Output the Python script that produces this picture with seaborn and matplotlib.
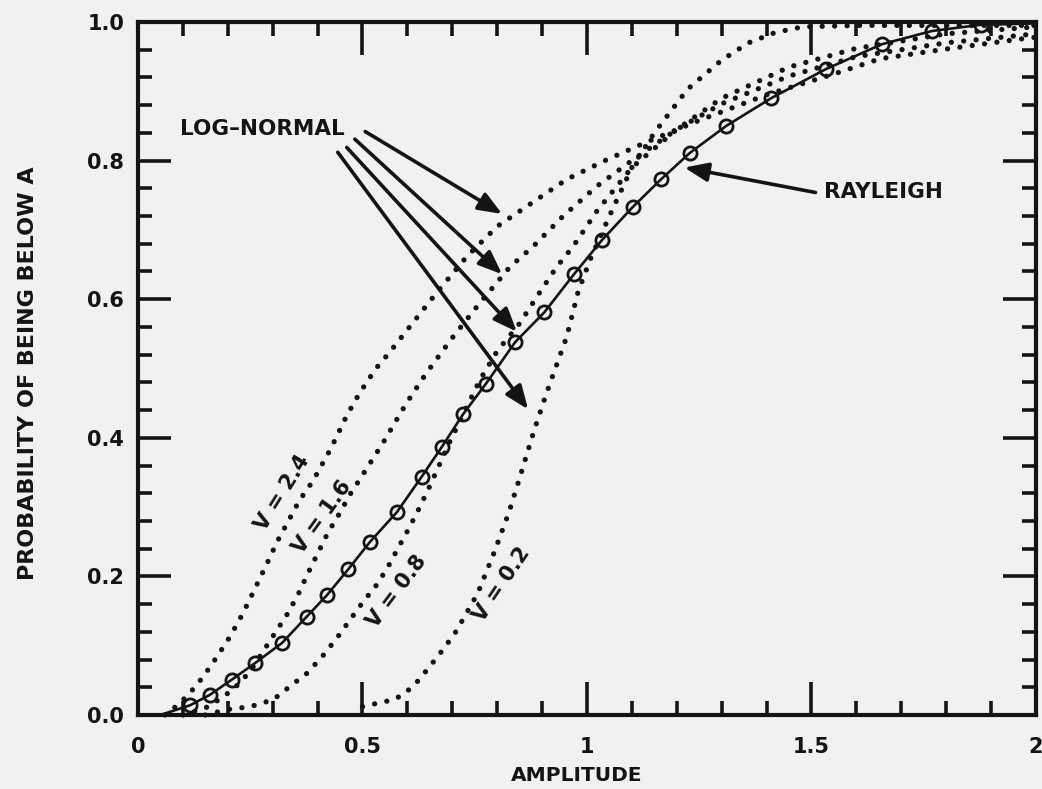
import matplotlib
matplotlib.use("Agg")
import matplotlib.pyplot as plt
from matplotlib.ticker import MultipleLocator, FuncFormatter
import seaborn as sns

# ---- data -------------------------------------------------------------
# Rayleigh distribution: sampled points (open circles) and the solid curve ends
rayleigh_amp = [0.116, 0.160, 0.209, 0.261, 0.321, 0.376, 0.421, 0.468, 0.517,
                0.577, 0.632, 0.677, 0.724, 0.775, 0.840, 0.905, 0.971, 1.033,
                1.102, 1.165, 1.229, 1.310, 1.410, 1.532, 1.657, 1.768, 1.877]
rayleigh_prob = [0.014, 0.029, 0.051, 0.075, 0.104, 0.142, 0.173, 0.210, 0.250,
                 0.293, 0.344, 0.387, 0.434, 0.478, 0.538, 0.581, 0.636, 0.685,
                 0.733, 0.773, 0.811, 0.850, 0.890, 0.932, 0.968, 0.987, 0.996]
rayleigh_start = (0.05, 0.0)
rayleigh_end = (2.0, 0.998)

# Log-normal distributions for several values of V
ln_v24_amp = [0.06, 0.09, 0.116, 0.145, 0.176, 0.205, 0.234, 0.261, 0.287, 0.31,
              0.335, 0.36, 0.39, 0.43, 0.465, 0.494, 0.53, 0.56, 0.60, 0.666,
              0.733, 0.80, 0.866, 0.955, 1.04, 1.13, 1.25, 1.40, 1.55, 1.653,
              1.80, 1.96, 2.00]
ln_v24_prob = [0.0, 0.015, 0.032, 0.055, 0.084, 0.113, 0.147, 0.183, 0.218, 0.25,
               0.28, 0.31, 0.338, 0.385, 0.432, 0.465, 0.50, 0.523, 0.556, 0.61,
               0.662, 0.705, 0.734, 0.773, 0.80, 0.826, 0.858, 0.895, 0.925,
               0.947, 0.961, 0.975, 0.978]

ln_v16_amp = [0.10, 0.15, 0.19, 0.227, 0.255, 0.278, 0.305, 0.332, 0.356, 0.379,
              0.401, 0.423, 0.45, 0.472, 0.494, 0.546, 0.599, 0.643, 0.702, 0.762,
              0.829, 0.88, 0.947, 1.022, 1.10, 1.20, 1.30, 1.45, 1.60, 1.80, 2.00]
ln_v16_prob = [0.0, 0.01, 0.026, 0.046, 0.068, 0.091, 0.118, 0.145, 0.173, 0.205,
               0.234, 0.263, 0.292, 0.318, 0.34, 0.393, 0.451, 0.494, 0.546, 0.595,
               0.647, 0.676, 0.72, 0.763, 0.80, 0.845, 0.882, 0.922, 0.95, 0.97,
               0.983]

ln_v08_amp = [0.15, 0.20, 0.25, 0.301, 0.338, 0.376, 0.41, 0.443, 0.472, 0.501,
              0.532, 0.557, 0.577, 0.599, 0.62, 0.644, 0.665, 0.695, 0.72, 0.762,
              0.80, 0.85, 0.895, 0.933, 0.969, 1.022, 1.10, 1.20, 1.30, 1.45,
              1.60, 1.80, 2.00]
ln_v08_prob = [0.0, 0.008, 0.012, 0.022, 0.041, 0.06, 0.084, 0.111, 0.137, 0.163,
               0.188, 0.214, 0.238, 0.264, 0.29, 0.322, 0.352, 0.395, 0.428, 0.484,
               0.525, 0.565, 0.61, 0.647, 0.676, 0.727, 0.79, 0.845, 0.89, 0.935,
               0.962, 0.983, 0.993]

ln_v02_amp = [0.50, 0.54, 0.57, 0.596, 0.625, 0.656, 0.68, 0.706, 0.73, 0.757,
              0.793, 0.826, 0.851, 0.882, 0.905, 0.924, 0.955, 0.98, 1.007, 1.05,
              1.10, 1.15, 1.224, 1.30, 1.36, 1.42, 1.48, 1.60, 1.80, 2.00]
ln_v02_prob = [0.012, 0.018, 0.022, 0.032, 0.05, 0.075, 0.095, 0.118, 0.145, 0.176,
               0.234, 0.292, 0.344, 0.41, 0.455, 0.49, 0.546, 0.61, 0.657, 0.72,
               0.79, 0.84, 0.903, 0.945, 0.97, 0.985, 0.993, 0.995, 0.995, 0.995]

curve_labels = ["V = 2.4", "V = 1.6", "V = 0.8", "V = 0.2"]
x_ticks = [0, 0.5, 1, 1.5, 2]
y_ticks = [0.0, 0.2, 0.4, 0.6, 0.8, 1.0]

# ---- style ------------------------------------------------------------
PAPER = "#f1f1ef"
INK = "#141414"

sns.set_theme(style="ticks")
plt.rcParams["font.family"] = ["DejaVu Sans"]
plt.rcParams["font.weight"] = "bold"
plt.rcParams["axes.labelweight"] = "bold"

fig, ax = plt.subplots(figsize=(10.42, 7.89), dpi=100)
fig.subplots_adjust(left=0.1324, right=0.9942, bottom=0.0938, top=0.9721)
fig.patch.set_facecolor(PAPER)
ax.set_facecolor(PAPER)

dotted = dict(color=INK, linewidth=3.8, linestyle=(0, (0.01, 2.35)),
              dash_capstyle="round", sort=False, estimator=None, clip_on=False)

for amp, prob in [(ln_v24_amp, ln_v24_prob), (ln_v16_amp, ln_v16_prob),
                  (ln_v08_amp, ln_v08_prob), (ln_v02_amp, ln_v02_prob)]:
    sns.lineplot(x=amp, y=prob, ax=ax, **dotted)

# Rayleigh solid curve through the sample points
line_amp = [rayleigh_start[0]] + rayleigh_amp + [rayleigh_end[0]]
line_prob = [rayleigh_start[1]] + rayleigh_prob + [rayleigh_end[1]]
sns.lineplot(x=line_amp, y=line_prob, ax=ax, color=INK, linewidth=1.9,
             sort=False, estimator=None)
sns.lineplot(x=rayleigh_amp, y=rayleigh_prob, ax=ax, color=INK, linestyle="",
             marker="o", markersize=9.5, markerfacecolor="none",
             markeredgecolor=INK, markeredgewidth=2.0, sort=False, estimator=None)

# ---- axes ---------------------------------------------------------------
ax.set_xlim(0, 2)
ax.set_ylim(0, 1)
ax.set_xticks(x_ticks)
ax.set_yticks(y_ticks)
ax.xaxis.set_minor_locator(MultipleLocator(0.1))
ax.yaxis.set_minor_locator(MultipleLocator(0.04))
ax.xaxis.set_major_formatter(FuncFormatter(lambda v, _: f"{v:g}"))
ax.yaxis.set_major_formatter(FuncFormatter(lambda v, _: f"{v:.1f}"))

ax.tick_params(which="both", direction="in", top=True, right=True,
               color=INK, width=2.6, labelcolor=INK, labelsize=15)
ax.tick_params(which="major", length=24)
ax.tick_params(which="minor", length=10)
ax.tick_params(axis="x", which="major", pad=16)
ax.tick_params(axis="y", which="major", pad=10)
for side in ax.spines.values():
    side.set_linewidth(3.0)
    side.set_color(INK)

ax.set_xlabel("AMPLITUDE", fontsize=14.5, fontweight="bold", color=INK)
ax.set_ylabel("PROBABILITY OF BEING BELOW A", fontsize=16,
              fontweight="bold", color=INK)
ax.xaxis.set_label_coords(0.489, -0.087)
ax.xaxis.label.set_va("center")
ax.yaxis.set_label_coords(-0.122, 0.493)
ax.yaxis.label.set_va("center")

# ---- annotations ---------------------------------------------------------
txt = dict(color=INK, fontweight="bold")
ax.text(0.0935, 0.846, "LOG\u2013NORMAL", ha="left", va="center", fontsize=15.5, **txt)
ax.text(1.528, 0.754, "RAYLEIGH", ha="left", va="center", fontsize=15.5, **txt)

arrow = dict(arrowstyle="-|>,head_length=0.55,head_width=0.22", lw=2.6,
             color=INK, mutation_scale=26, shrinkA=0, shrinkB=0)
ln_tails = [(0.506, 0.842), (0.483, 0.831), (0.465, 0.819), (0.445, 0.812)]
ln_tips = [(0.811, 0.723), (0.811, 0.636), (0.844, 0.553), (0.869, 0.441)]
for tail, tip in zip(ln_tails, ln_tips):
    ax.annotate("", xy=tip, xytext=tail, arrowprops=arrow)
ax.annotate("", xy=(1.217, 0.790), xytext=(1.509, 0.754), arrowprops=arrow)

label_pos = [(0.321, 0.321, 58), (0.410, 0.285, 54),
             (0.577, 0.179, 53), (0.811, 0.189, 56)]
for text, (x, y, ang) in zip(curve_labels, label_pos):
    ax.text(x, y, text, rotation=ang, rotation_mode="anchor", ha="center",
            va="center", fontsize=15, **txt)

fig.savefig("out.png", dpi=100, facecolor=PAPER)
